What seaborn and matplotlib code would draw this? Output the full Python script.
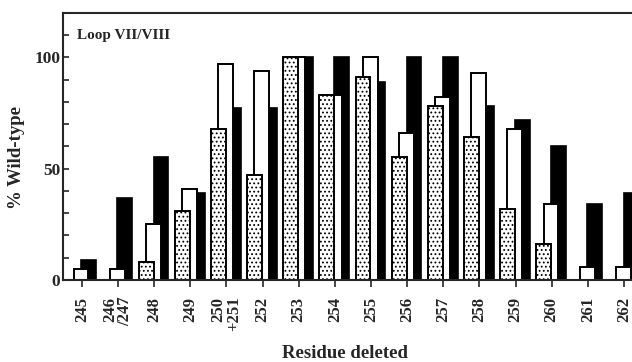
import numpy as np
import pandas as pd
import matplotlib
matplotlib.use("Agg")
import matplotlib.pyplot as plt
import seaborn as sns

# values (% of wild-type)
residues = ["245", "246\n/247", "248", "249", "250\n+251", "252", "253", "254",
            "255", "256", "257", "258", "259", "260", "261", "262"]
dotted = [0, 0, 8, 31, 68, 47, 100, 83, 91, 55, 78, 64, 32, 16, 0, 0]
white = [5, 5, 25, 41, 97, 94, 100, 83, 100, 66, 82, 93, 68, 34, 6, 6]
black = [9, 37, 55, 39, 77, 77, 100, 100, 89, 100, 100, 78, 72, 60, 34, 39]

sns.set_style("ticks")
plt.rcParams["font.family"] = ["Liberation Serif", "DejaVu Serif"]
plt.rcParams["font.weight"] = "bold"
plt.rcParams["hatch.linewidth"] = 0.8
plt.rcParams["hatch.color"] = "#222222"

fig = plt.figure(figsize=(6.32, 3.62), dpi=100)
ax = fig.add_axes([63 / 632, 82 / 362, 569 / 632, 267.3 / 362])

pos = np.arange(len(residues))
w = 0.41

# black behind, white over it, dotted on top
sns.barplot(x=pos + 0.19, y=black, native_scale=True, width=w, color="black",
            edgecolor="black", linewidth=1.2, errorbar=None, ax=ax, saturation=1)
sns.barplot(x=pos - 0.02, y=white, native_scale=True, width=w, color="white",
            edgecolor="black", linewidth=1.4, errorbar=None, ax=ax, saturation=1)
sns.barplot(x=pos - 0.22, y=dotted, native_scale=True, width=w, color="white",
            edgecolor="black", linewidth=1.4, errorbar=None, ax=ax, saturation=1,
            hatch="....")

ax.set_xlim(-0.52, len(residues) - 1 + 0.22)
ax.set_ylim(0, 120)

ax.set_xticks(pos)
ax.set_xticklabels(residues, rotation=90, fontsize=12, fontweight="bold",
                   multialignment="right", linespacing=0.95)
ax.set_yticks([0, 50, 100])
ax.set_yticklabels(["0", "50", "100"], fontsize=12.5, fontweight="bold")
ax.set_yticks(np.arange(0, 120, 10), minor=True)
ax.tick_params(axis="y", which="both", direction="in", length=4, width=1.2, pad=2)
ax.tick_params(axis="x", direction="out", length=5, width=1.2, pad=7)

for s in ["top", "bottom", "left"]:
    ax.spines[s].set_linewidth(1.5)
ax.spines["right"].set_visible(False)

ax.set_xlabel("Residue deleted", fontsize=13.5, fontweight="bold")
ax.xaxis.set_label_coords(0.495, -0.245)
ax.set_ylabel("% Wild-type", fontsize=13.5, fontweight="bold")
ax.yaxis.set_label_coords(-0.066, 0.46)

ax.text(0.025, 0.94, "Loop VII/VIII", transform=ax.transAxes, fontsize=11,
        fontweight="bold", va="top", ha="left")

fig.savefig("out.png", dpi=100)
